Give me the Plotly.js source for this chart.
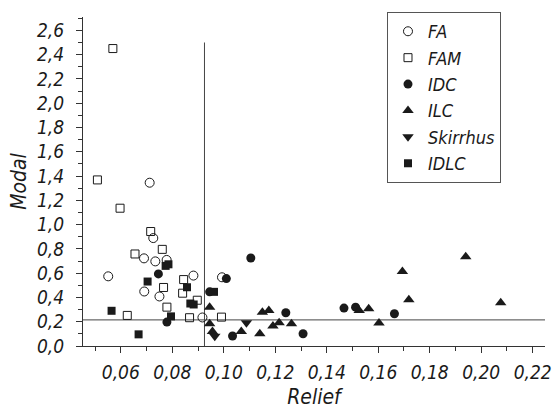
<!DOCTYPE html>
<html>
<head>
<meta charset="utf-8">
<script src="https://cdn.plot.ly/plotly-3.0.1.min.js"></script>
<style>html,body{margin:0;padding:0;background:#fff}#chart{width:557px;height:409px}</style>
</head>
<body>
<div id="chart"></div>
<script>
// ---- data (Relief, Modal) ----
const seriesNames = ["FA", "FAM", "IDC", "ILC", "Skirrhus", "IDLC"];

const faX = [0.0712, 0.0726, 0.0690, 0.0734, 0.0778, 0.0551, 0.0882, 0.0691, 0.0750, 0.0917, 0.0993];
const faY = [1.345, 0.889, 0.722, 0.697, 0.709, 0.574, 0.580, 0.449, 0.408, 0.235, 0.566];

const famX = [0.0569, 0.0509, 0.0597, 0.0716, 0.0655, 0.0761, 0.0844, 0.0766, 0.0840, 0.0897, 0.0779, 0.0625, 0.0867, 0.0991];
const famY = [2.450, 1.368, 1.135, 0.943, 0.758, 0.796, 0.547, 0.482, 0.435, 0.377, 0.320, 0.252, 0.233, 0.238];

const idcX = [0.0746, 0.0779, 0.1010, 0.1105, 0.0945, 0.1034, 0.1241, 0.1308, 0.1467, 0.1512, 0.1663];
const idcY = [0.594, 0.197, 0.555, 0.725, 0.446, 0.082, 0.274, 0.101, 0.312, 0.320, 0.266];

const ilcX = [0.0945, 0.0945, 0.0956, 0.1068, 0.1140, 0.1150, 0.1175, 0.1191, 0.1215, 0.1263, 0.1526, 0.1563, 0.1603, 0.1694, 0.1719, 0.1940, 0.2076];
const ilcY = [0.320, 0.184, 0.120, 0.120, 0.101, 0.279, 0.293, 0.164, 0.192, 0.184, 0.293, 0.307, 0.189, 0.613, 0.381, 0.736, 0.356];

const skX = [0.0965, 0.1088];
const skY = [0.080, 0.192];

const idlcX = [0.0774, 0.0785, 0.0704, 0.0857, 0.0870, 0.0883, 0.0564, 0.0795, 0.0669, 0.0962];
const idlcY = [0.660, 0.673, 0.531, 0.484, 0.350, 0.342, 0.290, 0.244, 0.096, 0.446];

// threshold lines
const reliefThreshold = 0.0925;
const reliefLineTop = 2.5;
const modalThreshold = 0.215;

// ---- drawing ----
const FONT = "DejaVu Sans Condensed, Liberation Sans Narrow, Arial Narrow, sans-serif";
const INK = "#1a1a1a";

function tr(name, x, y, symbol, size) {
  const open = symbol.indexOf("open") >= 0;
  return {
    type: "scatter", mode: "markers", name: name, x: x, y: y,
    marker: {
      symbol: symbol, size: size, color: INK,
      line: {color: INK, width: open ? 1 : 0}
    }
  };
}

const traces = [
  tr(seriesNames[0], faX, faY, "circle-open", 9),
  tr(seriesNames[1], famX, famY, "square-open", 8),
  tr(seriesNames[2], idcX, idcY, "circle", 9),
  tr(seriesNames[3], ilcX, ilcY, "triangle-up", 10),
  tr(seriesNames[4], skX, skY, "triangle-down", 10),
  tr(seriesNames[5], idlcX, idlcY, "square", 8)
];

const tickFont = {family: FONT, size: 19, color: INK, style: "italic"};
const titleFont = {family: FONT, size: 21, color: INK, style: "italic"};

const layout = {
  width: 557, height: 409,
  margin: {l: 83, r: 12, t: 15, b: 63},
  paper_bgcolor: "#fff", plot_bgcolor: "#fff",
  separators: ", ",
  showlegend: true,
  xaxis: {
    range: [0.0453, 0.2248], dtick: 0.02, tick0: 0, tickformat: ".2f",
    showgrid: false, zeroline: false,
    showline: true, linecolor: "#333", linewidth: 1,
    ticks: "outside", ticklen: 6, tickcolor: "#333",
    minor: {dtick: 0.01, ticks: "outside", ticklen: 4, tickcolor: "#333", showgrid: false},
    tickfont: tickFont, ticklabelstandoff: 3,
    title: {text: "Relief", font: titleFont, standoff: 9}
  },
  yaxis: {
    range: [0, 2.71], dtick: 0.2, tick0: 0, tickformat: ".1f",
    showgrid: false, zeroline: false,
    showline: true, linecolor: "#333", linewidth: 1,
    ticks: "outside", ticklen: 6, tickcolor: "#333",
    minor: {dtick: 0.1, ticks: "outside", ticklen: 4, tickcolor: "#333", showgrid: false},
    tickfont: tickFont, ticklabelstandoff: 8,
    title: {text: "Modal", font: titleFont, standoff: 4}
  },
  legend: {
    x: 0.658, y: 1.015, xanchor: "left", yanchor: "top",
    bordercolor: "#555", borderwidth: 1, bgcolor: "#fff",
    font: {family: FONT, size: 18, color: INK, style: "italic"},
    itemwidth: 30, tracegroupgap: 0
  },
  shapes: [
    {type: "line", layer: "below", xref: "x", yref: "y",
     x0: reliefThreshold, x1: reliefThreshold, y0: 0, y1: reliefLineTop,
     line: {color: "#444", width: 1}},
    {type: "line", layer: "below", xref: "paper", yref: "y",
     x0: 0, x1: 1, y0: modalThreshold, y1: modalThreshold,
     line: {color: "#444", width: 1}}
  ]
};

Plotly.newPlot("chart", traces, layout, {staticPlot: true, displayModeBar: false});
</script>
</body>
</html>
